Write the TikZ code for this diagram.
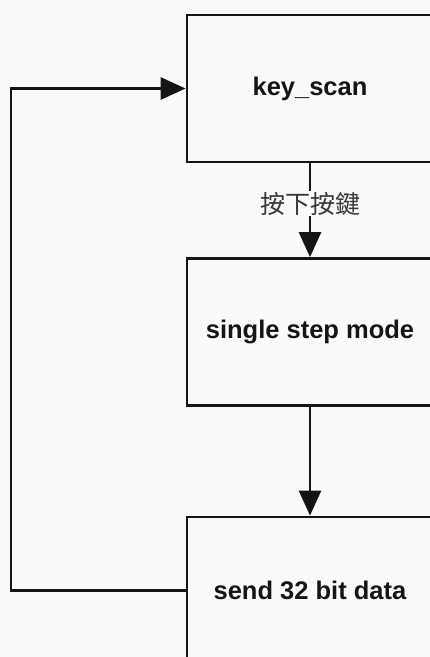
\documentclass[tikz,border=0pt]{standalone}
\usepackage{fontspec}
\setmainfont{Liberation Sans}
\newfontfamily\cjk{Noto Sans CJK TC}
\usetikzlibrary{arrows.meta}
\definecolor{bg}{HTML}{FAFAFA}
\definecolor{ink}{HTML}{151515}
\tikzset{
  blockbox/.style={draw=ink, line width=2.8pt, fill=bg, minimum width=246pt, minimum height=147pt, inner sep=0pt,
    font=\fontsize{25.5}{28}\selectfont\bfseries, text=ink},
  flow/.style={draw=ink, line width=2.8pt, -{Triangle[length=25pt,width=22pt]}},
  lbl/.style={fill=bg, inner sep=1pt, font=\cjk\fontsize{25}{27}\selectfont, text=ink!85}
}
\begin{document}
\begin{tikzpicture}[x=1pt,y=-1pt]
\fill[bg] (0,0) rectangle (430,657);
\useasboundingbox (0,0) rectangle (430,657);
\begin{scope}
\clip (0,0) rectangle (430,657);
\node[blockbox] (k) at (310,88.5) {key\_scan};
\node[blockbox] (s) at (310,332) {single step mode};
\node[blockbox] (d) at (310,590.5) {send 32 bit data};
\coordinate (c) at (11,0);
\draw[flow] (k.south) -- node[lbl, pos=0.43] (l) {按下按鍵} (s.north);
\draw[flow] (s.south) -- (d.north);
\draw[flow] (d.west) -- (d.west -| c) |- (k.west);
\end{scope}
\end{tikzpicture}
\end{document}
